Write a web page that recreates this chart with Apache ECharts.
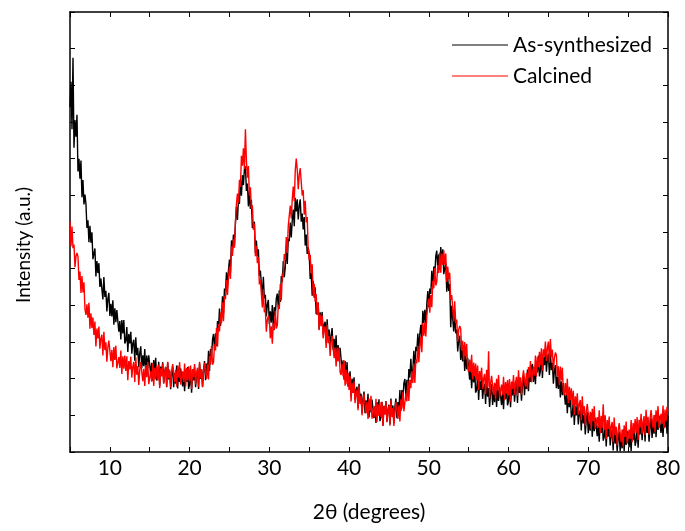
<!DOCTYPE html>
<html>
<head>
<meta charset="utf-8">
<script src="https://cdn.jsdelivr.net/npm/echarts@6/dist/echarts.min.js"></script>
<style>
html,body{margin:0;padding:0;background:#fff;}
#chart{width:685px;height:531px;}
</style>
</head>
<body>
<div id="chart"></div>
<script>
// 2θ grid: 5° to 80° in 0.125° steps (one value per step below)
const angleStart = 5;
const angleStep = 0.125;

const seriesNames = ['As-synthesized', 'Calcined'];
const xTickLabels = [10, 20, 30, 40, 50, 60, 70, 80];
const xAxisName = '2\u03b8 (degrees)';
const yAxisName = 'Intensity (a.u.)';

// one row per degree (8 readings)
const asSynthesized = [
  940,1010,880,1075,830,905,860,920,
  765,800,745,795,695,742,675,702,
  677,611,632,572,617,571,599,526,
  524,555,479,521,488,515,450,473,
  478,416,477,423,440,383,418,434,
  371,404,370,414,347,392,354,387,
  385,328,357,307,360,323,360,296,
  303,341,273,322,296,328,268,296,
  306,249,313,264,284,231,270,288,
  229,264,234,281,216,263,229,264,
  265,211,243,195,251,217,257,195,
  205,246,181,233,210,245,188,219,
  232,177,245,198,221,171,212,234,
  177,215,186,236,173,223,191,228,
  232,179,213,166,224,191,232,172,
  183,225,162,216,195,232,177,209,
  224,172,242,199,225,178,223,248,
  196,241,219,276,221,281,259,307,
  322,280,324,289,357,337,391,344,
  368,425,376,446,439,490,449,496,
  525,490,577,550,593,564,626,669,
  633,688,677,744,699,755,728,771,
  779,712,732,670,712,663,688,611,
  606,628,543,577,534,553,480,495,
  492,424,478,419,429,370,402,415,
  349,384,353,401,336,395,372,419,
  432,394,441,409,480,464,521,477,
  505,562,513,582,575,626,585,632,
  661,616,693,656,689,634,671,689,
  628,650,607,641,563,593,540,558,
  541,472,489,426,467,421,449,376,
  374,408,335,381,351,382,320,347,
  355,298,362,313,334,281,319,338,
  278,309,274,318,249,292,253,284,
  281,222,250,197,248,209,245,178,
  183,220,151,200,173,204,142,169,
  178,121,186,138,159,106,146,165,
  106,141,111,159,94,142,108,143,
  145,92,125,79,136,103,144,84,
  95,137,72,126,104,139,83,115,
  129,76,146,102,127,79,123,146,
  92,136,113,169,112,169,143,188,
  199,155,197,160,226,203,254,203,
  224,276,222,287,275,323,278,322,
  347,305,385,352,388,350,404,439,
  395,446,431,494,445,506,485,534,
  549,501,539,497,559,519,553,485,
  489,516,437,476,439,458,340,399,
  396,329,383,324,334,274,306,317,
  251,282,247,290,221,264,226,257,
  254,197,226,174,227,190,227,162,
  169,209,142,194,169,203,145,174,
  186,131,198,151,174,123,164,185,
  128,165,136,186,123,172,139,177,
  180,128,163,117,175,144,186,127,
  139,184,122,176,154,192,137,171,
  186,134,205,161,187,140,184,209,
  155,196,172,225,166,220,191,233,
  240,191,228,185,246,217,263,206,
  221,265,202,258,237,274,219,253,
  268,210,274,223,243,186,221,237,
  174,206,172,217,149,193,155,188,
  186,129,158,106,159,122,159,94,
  101,140,74,125,100,133,75,104,
  115,59,125,78,100,48,88,109,
  51,87,58,106,42,90,57,93,
  96,43,75,28,85,52,92,31,
  41,81,15,66,42,76,18,48,
  60,4,71,23,46,2,36,56,
  2,38,10,61,3,51,19,58,
  63,13,48,3,62,32,75,17,
  30,74,12,68,48,86,32,66,
  82,29,97,52,77,28,70,93,
  38,77,50,101,40,91,60,99,
  104,52,86,41,99,67,109,50,
  98
];

const calcined = [
  629,561,615,556,566,504,534,543,
  533,469,492,434,480,435,463,390,
  374,403,366,407,336,378,338,367,
  319,356,288,337,310,342,282,310,
  320,263,328,278,299,246,285,304,
  303,248,279,231,286,251,290,228,
  223,259,229,277,213,261,227,263,
  221,261,196,248,225,260,203,233,
  246,191,258,211,234,183,224,245,
  246,193,227,180,237,204,246,185,
  182,220,192,242,180,230,198,236,
  196,238,174,228,206,242,186,218,
  232,178,246,201,225,176,218,240,
  243,191,224,178,236,203,245,184,
  182,220,191,241,179,229,196,234,
  194,236,172,226,204,240,184,216,
  230,177,246,201,226,177,220,243,
  246,199,239,198,262,239,289,238,
  245,294,277,338,287,349,329,380,
  352,408,357,425,417,469,428,476,
  506,472,561,535,580,557,626,676,
  705,680,742,723,808,781,828,772,
  880,795,748,780,699,722,663,673,
  606,623,534,562,515,532,457,470,
  465,394,444,381,388,328,360,371,
  363,310,343,295,352,332,385,337,
  346,401,390,458,413,487,479,540,
  524,586,543,617,616,672,637,689,
  724,684,766,800,771,717,756,774,
  773,700,714,647,685,626,641,553,
  524,538,486,512,426,459,410,431,
  374,406,332,375,343,372,310,335,
  342,284,347,297,316,262,299,317,
  314,256,285,233,285,247,284,218,
  210,241,207,250,181,224,185,216,
  169,207,138,188,161,193,133,160,
  170,114,179,131,152,100,139,159,
  158,105,137,90,146,112,153,91,
  87,124,95,145,82,131,98,136,
  95,136,71,125,102,138,81,113,
  126,72,141,95,120,71,113,136,
  139,90,127,83,144,118,165,111,
  114,159,138,194,139,197,174,220,
  188,241,188,253,242,290,245,289,
  314,272,352,317,353,315,370,404,
  418,380,428,395,467,447,502,454,
  464,509,488,544,489,541,510,550,
  511,541,464,506,471,489,415,428,
  424,356,411,351,361,301,333,344,
  336,277,303,250,300,261,295,228,
  218,252,219,265,198,244,207,241,
  196,236,169,221,196,230,172,201,
  213,158,224,177,275,147,188,208,
  208,156,189,143,200,168,210,149,
  147,184,156,205,142,191,159,196,
  155,199,137,192,172,210,156,189,
  205,153,223,178,204,156,200,223,
  227,178,215,171,232,203,248,190,
  191,233,209,263,205,259,231,273,
  237,283,222,280,261,301,248,284,
  301,244,308,259,279,222,256,271,
  265,207,234,182,233,195,230,164,
  155,188,155,200,133,178,141,174,
  128,167,101,152,127,160,102,131,
  142,86,152,103,125,72,112,131,
  131,77,110,62,118,84,125,63,
  59,95,66,114,51,99,66,130,
  60,100,35,87,63,97,40,70,
  82,27,94,46,69,18,58,79,
  79,27,61,15,73,41,83,23,
  21,61,35,87,27,79,50,90,
  52,95,33,88,67,104,50,83,
  98,46,115,71,96,47,91,114,
  117,66,101,55,114,83,125,66,
  65,104,76,127,65,116,84,123,
  112
];

function toPairs(vals) {
  return vals.map((v, i) => [angleStart + i * angleStep, v]);
}

const FONT = 'Lato';
const chart = echarts.init(document.getElementById('chart'), null, {renderer: 'canvas'});

const axisLineStyle = {color: '#000', width: 1.5};
const tickStyle = {show: true, inside: true, length: 5, lineStyle: {color: '#000', width: 1}};

chart.setOption({
  animation: false,
  backgroundColor: '#fff',
  grid: {left: 70, right: 17, top: 12, bottom: 79, containLabel: false},
  legend: {
    orient: 'vertical',
    left: 452,
    top: 33,
    padding: 0,
    itemWidth: 56,
    itemHeight: 1,
    itemGap: 7,
    icon: 'rect',
    data: seriesNames,
    textStyle: {fontFamily: FONT, fontSize: 21, color: '#000', lineHeight: 24}
  },
  xAxis: [
    {
      type: 'value', min: 5, max: 80, interval: 5, position: 'bottom',
      axisLine: {show: true, onZero: false, lineStyle: axisLineStyle},
      axisTick: tickStyle,
      splitLine: {show: false},
      axisLabel: {
        show: true, margin: 6, color: '#000', fontFamily: FONT, fontSize: 21,
        formatter: v => xTickLabels.indexOf(v) >= 0 ? String(v) : ''
      },
      name: xAxisName, nameLocation: 'middle', nameGap: 50,
      nameTextStyle: {fontFamily: FONT, fontSize: 21, color: '#000'}
    },
    {
      type: 'value', min: 5, max: 80, interval: 5, position: 'top',
      axisLine: {show: true, onZero: false, lineStyle: axisLineStyle},
      axisTick: tickStyle,
      splitLine: {show: false},
      axisLabel: {show: false}
    }
  ],
  yAxis: [
    {
      type: 'value', min: 0, max: 1200, interval: 100, position: 'left',
      axisLine: {show: true, onZero: false, lineStyle: axisLineStyle},
      axisTick: tickStyle,
      splitLine: {show: false},
      axisLabel: {show: false},
      name: yAxisName, nameLocation: 'middle', nameGap: 37, nameRotate: 90,
      nameTextStyle: {fontFamily: FONT, fontSize: 19, color: '#000', padding: [0, 26, 0, 0]}
    },
    {
      type: 'value', min: 0, max: 1200, interval: 100, position: 'right',
      axisLine: {show: true, onZero: false, lineStyle: axisLineStyle},
      axisTick: tickStyle,
      splitLine: {show: false},
      axisLabel: {show: false}
    }
  ],
  series: [
    {
      name: seriesNames[0], type: 'line', xAxisIndex: 0, yAxisIndex: 0,
      data: toPairs(asSynthesized), showSymbol: false, symbol: 'none',
      sampling: null, color: '#000000',
      lineStyle: {color: '#000000', width: 1.4}, emphasis: {disabled: true}
    },
    {
      name: seriesNames[1], type: 'line', xAxisIndex: 0, yAxisIndex: 0,
      data: toPairs(calcined), showSymbol: false, symbol: 'none',
      sampling: null, color: '#ff0000',
      lineStyle: {color: '#ff0000', width: 1.4}, emphasis: {disabled: true}
    }
  ]
});
</script>
</body>
</html>
